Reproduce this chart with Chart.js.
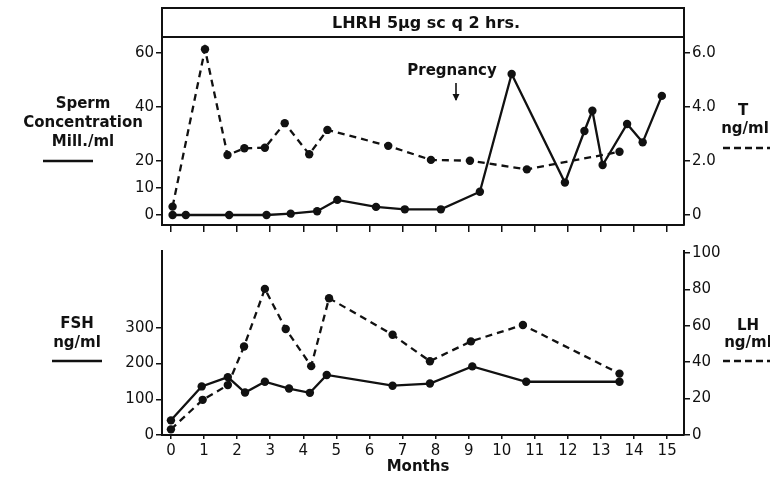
<!DOCTYPE html>
<html>
<head>
<meta charset="utf-8">
<script src="https://cdn.jsdelivr.net/npm/chart.js@4.4.1/dist/chart.umd.min.js"></script>
<style>
  html, body { margin: 0; padding: 0; background: #ffffff; }
  #wrap { position: relative; width: 770px; height: 477px; overflow: hidden; }
  canvas { position: absolute; left: 0; }
  #cTop { top: 0; }
  #cBot { top: 240px; }
</style>
</head>
<body>
<div id="wrap">
  <canvas id="cTop" width="770" height="240"></canvas>
  <canvas id="cBot" width="770" height="237"></canvas>
</div>
<script>
// ---------- data ----------
const monthTicks = [0,1,2,3,4,5,6,7,8,9,10,11,12,13,14,15];
const monthLabels = ["0","1","2","3","4","5","6","7","8","9","10","11","12","13","14","15"];

const spermMonths = [0.05,0.45,1.76,2.89,3.62,4.42,5.03,6.2,7.07,8.16,9.34,10.3,11.91,12.5,12.74,13.05,13.79,14.26,14.84];
const spermValues = [0,0,0,0,0.5,1.4,5.6,3.0,2.1,2.1,8.6,52.2,12.0,31.1,38.6,18.5,33.7,26.9,44.1];

const tMonths = [0.05,1.03,1.71,2.22,2.84,3.44,4.18,4.73,6.57,7.86,9.04,10.76,13.56];
const tValues = [0.31,6.14,2.22,2.47,2.49,3.40,2.25,3.15,2.56,2.04,2.01,1.69,2.34];

const fshMonths = [0,0.93,1.72,2.24,2.84,3.57,4.2,4.71,6.7,7.83,9.11,10.74,13.56];
const fshValues = [41,136,162,119,149,130,118,168,138,144,192,149,149];

const lhMonths = [0,0.96,1.72,2.21,2.84,3.47,4.24,4.78,6.7,7.83,9.07,10.64,13.56];
const lhValues = [3.1,19.3,27.4,48.6,80.2,58.2,37.8,75.1,55.0,40.5,51.4,60.4,33.7];

const spermTicks = [0,10,20,40,60];
const tTicks = [0,2,4,6];
const tTickLabels = ["0","2.0","4.0","6.0"];
const fshTicks = [0,100,200,300];
const lhTicks = [0,20,40,60,80,100];

// ---------- helpers ----------
const FONT = "DejaVu Sans";
const INK = "#111111";
function pts(xs, ys) { return xs.map((x, i) => ({ x: x, y: ys[i] })); }
function fixedTicks(arr) { return function (scale) { scale.ticks = arr.map(v => ({ value: v })); }; }

function solidSet(data, axis) {
  return { data: data, yAxisID: axis, borderColor: INK, backgroundColor: INK, borderWidth: 2.3,
           pointRadius: 4.2, pointBackgroundColor: INK, pointBorderColor: INK, pointBorderWidth: 0,
           tension: 0, fill: false };
}
function dashedSet(data, axis) {
  return { data: data, yAxisID: axis, borderColor: INK, backgroundColor: INK, borderWidth: 2.3,
           borderDash: [7, 5], pointRadius: 4.2, pointBackgroundColor: INK, pointBorderColor: INK,
           pointBorderWidth: 0, tension: 0, fill: false };
}

function yAxis(pos, min, max, tickArr, labelFn, width) {
  return {
    type: 'linear', position: pos, min: min, max: max,
    afterBuildTicks: fixedTicks(tickArr),
    afterFit: function (s) { s.width = width; },
    ticks: { color: INK, font: { family: FONT, size: 15 }, padding: 2, autoSkip: false,
             callback: labelFn },
    grid: { drawOnChartArea: false, drawTicks: true, tickLength: 6, color: INK, lineWidth: 1.5 },
    border: { display: true, color: INK, width: 2 }
  };
}

function textPlugin(id, drawFn) {
  return { id: id, afterDraw: function (chart) { const c = chart.ctx; c.save(); drawFn(c, chart); c.restore(); } };
}

function drawLegendLine(c, x1, x2, y, dashed) {
  c.beginPath();
  c.strokeStyle = INK;
  c.lineWidth = 2.3;
  c.setLineDash(dashed ? [7, 4] : []);
  c.moveTo(x1, y); c.lineTo(x2, y); c.stroke();
  c.setLineDash([]);
}

// ---------- top panel ----------
new Chart(document.getElementById('cTop'), {
  type: 'line',
  data: { datasets: [ solidSet(pts(spermMonths, spermValues), 'yS'),
                      dashedSet(pts(tMonths, tValues), 'yT') ] },
  options: {
    responsive: false, animation: false, devicePixelRatio: 1,
    layout: { padding: { top: 37, left: 0, right: 0, bottom: 0 } },
    plugins: { legend: { display: false }, tooltip: { enabled: false } },
    scales: {
      x: { type: 'linear', position: 'bottom', min: -0.27, max: 15.51,
           afterBuildTicks: fixedTicks(monthTicks),
           afterFit: function (s) { s.height = 15; },
           ticks: { display: false },
           grid: { drawOnChartArea: false, drawTicks: true, tickLength: 7, color: INK, lineWidth: 1.5 },
           border: { display: true, color: INK, width: 2 } },
      yS: yAxis('left', -3.7, 65.9, spermTicks, v => String(v), 162),
      yT: yAxis('right', -0.37, 6.59, tTicks, v => tTickLabels[tTicks.indexOf(v)], 86)
    }
  },
  plugins: [ textPlugin('topText', function (c, chart) {
    const a = chart.chartArea;
    // title band
    c.strokeStyle = INK; c.lineWidth = 2;
    c.beginPath();
    c.moveTo(a.left, a.top); c.lineTo(a.left, 8); c.lineTo(a.right, 8); c.lineTo(a.right, a.top);
    c.moveTo(a.left, a.top); c.lineTo(a.right, a.top);
    c.stroke();
    c.fillStyle = INK; c.textAlign = 'center'; c.textBaseline = 'middle';
    c.font = 'bold 16px "' + FONT + '"';
    c.fillText('LHRH 5\u03BCg sc q 2 hrs.', 426, 24);
    // pregnancy
    c.font = 'bold 15px "' + FONT + '"';
    c.fillText('Pregnancy', 452, 71);
    c.lineWidth = 1.6;
    c.beginPath(); c.moveTo(456, 83); c.lineTo(456, 100); c.stroke();
    c.beginPath(); c.moveTo(452.5, 94); c.lineTo(456, 101); c.lineTo(459.5, 94); c.closePath(); c.fill();
    // left label
    c.font = 'bold 15px "' + FONT + '"';
    c.fillText('Sperm', 83, 104);
    c.fillText('Concentration', 83, 123);
    c.fillText('Mill./ml', 83, 142);
    drawLegendLine(c, 43, 93, 161, false);
    // right label
    c.fillText('T', 743, 111);
    c.fillText('ng/ml', 745, 129);
    drawLegendLine(c, 723, 770, 148, true);
  }) ]
});

// ---------- bottom panel ----------
new Chart(document.getElementById('cBot'), {
  type: 'line',
  data: { datasets: [ solidSet(pts(fshMonths, fshValues), 'yF'),
                      dashedSet(pts(lhMonths, lhValues), 'yL') ] },
  options: {
    responsive: false, animation: false, devicePixelRatio: 1,
    layout: { padding: { top: 8, left: 0, right: 0, bottom: 0 } },
    plugins: { legend: { display: false }, tooltip: { enabled: false } },
    scales: {
      x: { type: 'linear', position: 'bottom', min: -0.27, max: 15.51,
           afterBuildTicks: fixedTicks(monthTicks),
           afterFit: function (s) { s.height = 42; },
           ticks: { color: INK, font: { family: FONT, size: 15 }, padding: 3, maxRotation: 0, autoSkip: false,
                    callback: v => monthLabels[monthTicks.indexOf(v)] },
           grid: { drawOnChartArea: false, drawTicks: true, tickLength: 4, color: INK, lineWidth: 1.5 },
           border: { display: true, color: INK, width: 2 } },
      yF: yAxis('left', 0, 515, fshTicks, v => String(v), 162),
      yL: yAxis('right', 0, 101, lhTicks, v => String(v), 86)
    }
  },
  plugins: [ textPlugin('botText', function (c, chart) {
    c.fillStyle = INK; c.textAlign = 'center'; c.textBaseline = 'middle';
    c.font = 'bold 15px "' + FONT + '"';
    c.fillText('FSH', 77, 84);
    c.fillText('ng/ml', 77, 103);
    drawLegendLine(c, 52, 102, 121, false);
    c.fillText('LH', 748, 86);
    c.fillText('ng/ml', 748, 103);
    drawLegendLine(c, 723, 770, 121, true);
    c.font = 'bold 15px "' + FONT + '"';
    c.fillText('Months', 418, 227);
  }) ]
});
</script>
</body>
</html>
